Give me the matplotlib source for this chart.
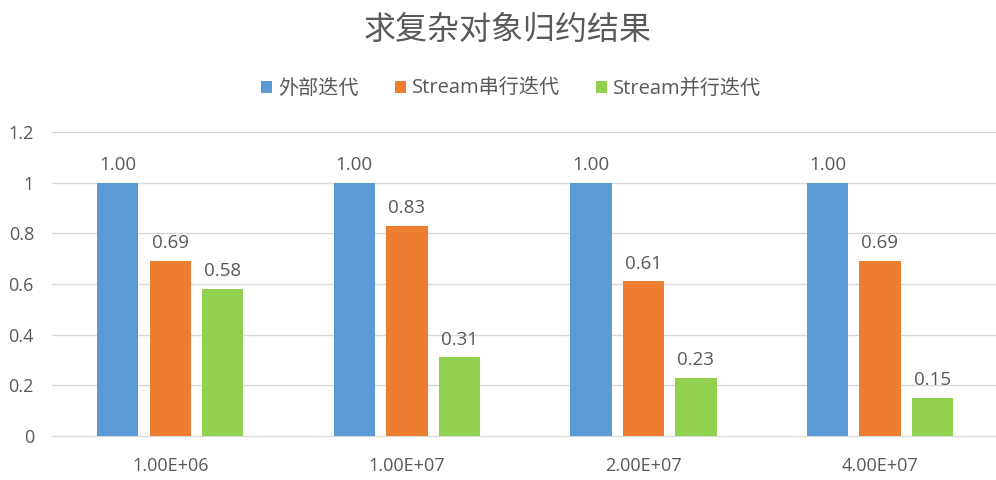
import matplotlib
matplotlib.use("Agg")
import matplotlib.pyplot as plt
import numpy as np

plt.rcParams['font.family'] = ['Open Sans', 'Noto Sans CJK SC', 'DejaVu Sans']

categories = ["1.00E+06", "1.00E+07", "2.00E+07", "4.00E+07"]
series_names = ["外部迭代", "Stream串行迭代", "Stream并行迭代"]
external = [1.00, 1.00, 1.00, 1.00]
serial = [0.69, 0.83, 0.61, 0.69]
parallel = [0.58, 0.31, 0.23, 0.15]
colors = ["#5B9BD5", "#ED7D31", "#92D050"]
title = "求复杂对象归约结果"

text_color = "#595959"
fig = plt.figure(figsize=(9.96, 4.8), dpi=100)
ax = fig.add_axes([0.0522, 0.0917, 0.95, 0.6333])

x = np.arange(len(categories))
width = 0.175
step = 0.222
for i, (vals, name, c) in enumerate(zip([external, serial, parallel], series_names, colors)):
    pos = x + (i - 1) * step
    ax.bar(pos, vals, width, color=c, label=name, zorder=3)
    for p, v in zip(pos, vals):
        ax.text(p, v + 0.035, f"{v:.2f}", ha="center", va="bottom",
                fontsize=13.5, color=text_color)

ax.set_xlim(-0.5, len(categories) - 0.5)
ax.set_ylim(0, 1.2)
ax.set_yticks([0, 0.2, 0.4, 0.6, 0.8, 1.0, 1.2])
ax.set_yticklabels(["0", "0.2", "0.4", "0.6", "0.8", "1", "1.2"])
ax.set_xticks(x)
ax.set_xticklabels(categories)
ax.tick_params(axis="both", length=0, labelsize=13, colors=text_color)
ax.tick_params(axis="x", pad=15)
ax.tick_params(axis="y", pad=13)
ax.grid(axis="y", color="#D9D9D9", linewidth=1, zorder=0)
for s in ["top", "right", "left"]:
    ax.spines[s].set_visible(False)
ax.spines["bottom"].set_color("#D9D9D9")

fig.text(0.51, 0.937, title, ha="center", va="center", fontsize=23, color=text_color)
fig.legend(loc="center", bbox_to_anchor=(0.513, 0.815), ncol=3, frameon=False,
           fontsize=14.5, handlelength=0.55, handleheight=0.55, handletextpad=0.3,
           columnspacing=1.8, labelcolor=text_color)

fig.savefig("out.png", dpi=100)
